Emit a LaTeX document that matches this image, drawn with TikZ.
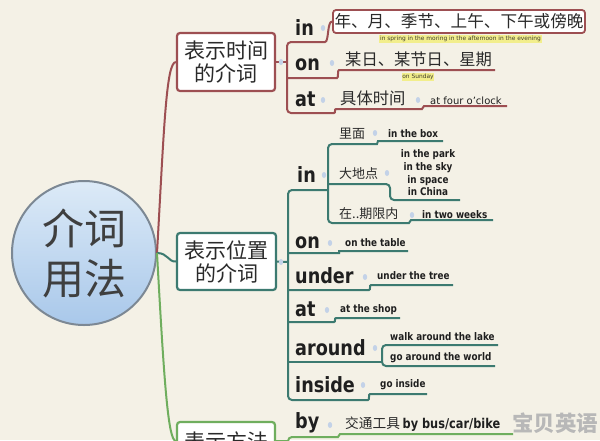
\documentclass[tikz,border=0pt]{standalone}
\usepackage{fontspec}
\setmainfont{DejaVu Sans}
\newfontfamily\cjk{Noto Sans CJK SC}
\newfontfamily\lab{DejaVu Sans}[FakeStretch=0.84]
\definecolor{bgc}{HTML}{F4F1E6}
\definecolor{redc}{HTML}{9D4F52}
\definecolor{tealc}{HTML}{3C7A70}
\definecolor{greenc}{HTML}{6FAE5E}
\definecolor{circb}{HTML}{7C8894}
\definecolor{circt}{HTML}{A9C8EA}
\definecolor{circl}{HTML}{DCEAF7}
\definecolor{dotc}{HTML}{C3D2E8}
\definecolor{yelc}{HTML}{F2EE8C}
\definecolor{txtc}{HTML}{2A2A2A}
\begin{document}
\begin{tikzpicture}[x=1pt,y=-1pt,
  tbox/.style={rectangle, rounded corners=3pt, fill=white, line width=2.2pt,
    minimum width=98pt, minimum height=58pt, inner sep=0pt, align=center,
    font=\cjk\fontsize{21}{23}\selectfont, text=txtc},
  lbl/.style={font=\lab\bfseries\fontsize{21}{21}\selectfont, text=black!88, inner sep=0pt, anchor=base west},
  sm/.style={font=\lab\bfseries\fontsize{10.5}{12.5}\selectfont, text=black!88, inner sep=0pt, anchor=base west},
  zh/.style={font=\cjk\fontsize{13}{13}\selectfont, text=txtc, inner sep=0pt, anchor=base west},
  zhb/.style={font=\cjk\fontsize{16.3}{16.3}\selectfont, text=txtc, inner sep=0pt, anchor=base west},
  yel/.style={fill=yelc, inner sep=0.8pt, font=\fontsize{5.9}{6.5}\selectfont, text=black!70!olive},
  redl/.style={draw=redc, line width=2pt, rounded corners=4pt},
  tl/.style={draw=tealc, line width=2pt, rounded corners=4pt},
  gl/.style={draw=greenc, line width=2pt, rounded corners=4pt},
  dot/.style={fill=dotc}]
\useasboundingbox (0,0) rectangle (600,440);
\clip (0,0) rectangle (600,440);
\fill[bgc] (0,0) rectangle (600,440);

% root
\node[circle, minimum size=144pt, draw=circb, line width=2pt, top color=circl, bottom color=circt,
  inner sep=0pt, align=center, font=\cjk\fontsize{42}{50}\selectfont, text=txtc!90] (root) at (84,253) {介词\\用法};

% branch boxes
\node[tbox, draw=redc] (time) at (226,62) {表示时间\\的介词};
\node[tbox, draw=tealc, minimum width=99pt, minimum height=57pt] (pos) at (226.5,261.5) {表示位置\\的介词};
\node[tbox, draw=greenc, minimum height=38pt] (meth) at (226,441) {表示方法};

% main connectors
\draw[redl] (root.east) .. controls (164,130) and (166,62) .. (time.west);
\draw[tl] (root.east) .. controls (168,253) and (168,262) .. (pos.west);
\draw[gl] (root.east) .. controls (164,380) and (168,441) .. (meth.west);

% ---------- time group ----------
\node[draw=redc, line width=1.8pt, rounded corners=3pt, fill=white, minimum width=252pt, minimum height=23pt,
  inner sep=0pt, font=\cjk\fontsize{16.6}{16.6}\selectfont, text=txtc] (tin) at (459,21.5) {年、月、季节、上午、下午或傍晚};
\draw[redl] (time.east) -- (287,62);
\draw[redl] (tin.west) .. controls (327,21.5) and (329,42) .. (321,42) -- (287,42) -- (287,113) -- (330,113)
  .. controls (336,113) and (334,109) .. (340,109) -- (418,109) .. controls (424,109) and (422,106) .. (428,106) -- (507,106);
\draw[redl] (287,78) -- (333,78) .. controls (339,78) and (337,70) .. (343,70) -- (495,70);
\fill[dot] (281,62) ellipse (2.2 and 3);

\node[lbl] (tinl) at (295,35) {in};
\node[lbl] (tonl) at (295,70) {on};
\node[lbl] (tatl) at (295,106) {at};
\fill[dot] (323,28) ellipse (2.2 and 3);
\fill[dot] (332,63) ellipse (2.2 and 3);
\fill[dot] (323,100) ellipse (2.2 and 3);
\node[yel] (tiny1) at (460.5,39) {in spring in the moring in the afternoon in the evening};
\node[zhb] (ton) at (345,65) {某日、某节日、星期};
\node[yel] (tiny2) at (418,77) {on Sunday};
\node[zhb] (tat) at (340,104) {具体时间};
\fill[dot] (418,100) ellipse (2.2 and 3);
\node[font=\fontsize{10}{10}\selectfont, text=black!88, inner sep=0pt, anchor=base west] (tat2) at (430,104) {at four o'clock};

% ---------- position group ----------
\draw[tl] (pos.east) -- (288,262);
\fill[dot] (281,262) ellipse (2.2 and 3);
\draw[tl] (328,190) -- (288,190) -- (288,400) -- (364,400) .. controls (370,400) and (368,394) .. (374,394) -- (427,394);
\draw[tl] (443,141) -- (382,141) .. controls (377,141) and (378,144) .. (373,144) -- (328,144) -- (328,223) -- (405,223)
  .. controls (411,223) and (409,220) .. (415,220) -- (493,220);
\draw[tl] (328,184) -- (390,184) -- (390,200) -- (460,200);
\draw[tl] (288,253) -- (335,253) .. controls (340,253) and (338,251) .. (343,251) -- (408,251);
\draw[tl] (288,290) -- (365,290) .. controls (371,290) and (369,285) .. (375,285) -- (453,285);
\draw[tl] (288,322) -- (330,322) .. controls (336,322) and (334,318) .. (340,318) -- (400,318);
\draw[tl] (288,362) -- (382,362);
\draw[tl] (498,345) -- (382,345) -- (382,366) -- (495,366);

\node[lbl] (pin) at (297,182) {in};
\node[lbl] (pon) at (295,248) {on};
\node[lbl] (punder) at (295,283) {under};
\node[lbl] (pat) at (295,316) {at};
\node[lbl] (paround) at (295,355) {around};
\node[lbl] (pinside) at (295,392) {inside};
\fill[dot] (324,175) ellipse (2.2 and 3);
\fill[dot] (330,243) ellipse (2.2 and 3);
\fill[dot] (365,277) ellipse (2.2 and 3);
\fill[dot] (327,310) ellipse (2.2 and 3);
\fill[dot] (375,348) ellipse (2.2 and 3);
\fill[dot] (363,385) ellipse (2.2 and 3);

\node[zh] (lm) at (339,138) {里面};
\fill[dot] (375,133) ellipse (2.2 and 3);
\node[sm] (lm2) at (388,137) {in the box};
\node[zh] (ddd) at (339,178) {大地点};
\fill[dot] (387,173) ellipse (2.2 and 3);
\node[sm, anchor=base] (p1) at (428,157) {in the park};
\node[sm, anchor=base] (p2) at (428,170) {in the sky};
\node[sm, anchor=base] (p3) at (428,183) {in space};
\node[sm, anchor=base] (p4) at (428,195.5) {in China};
\node[zh] (qx) at (339,218) {在..期限内};
\fill[dot] (412,215) ellipse (2.2 and 3);
\node[sm] (qx2) at (422,218) {in two weeks};
\node[sm] (on2) at (345,246) {on the table};
\node[sm] (un2) at (377,279) {under the tree};
\node[sm] (at2) at (340,312) {at the shop};
\node[sm] (ar1) at (390,340) {walk around the lake};
\node[sm] (ar2) at (390,360) {go around the world};
\node[sm] (in2) at (380,387) {go inside};

% ---------- method group ----------
\draw[gl] (meth.east) -- (288,441);
\draw[gl] (288,460) -- (288,437) -- (334,437) .. controls (340,437) and (338,434) .. (344,434) -- (513,434);
\node[lbl] (mby) at (295,428) {by};
\fill[dot] (330,425) ellipse (2.2 and 3);
\node[font=\cjk\fontsize{13.7}{13.7}\selectfont, text=txtc, inner sep=0pt, anchor=base west] (jt) at (345,428) {交通工具};
\node[font=\lab\bfseries\fontsize{13.5}{13.5}\selectfont, text=black!88, inner sep=0pt, anchor=base west] (jt2) at (jt.base east) {\,by bus/car/bike};

% watermark
\node[font=\cjk\bfseries\fontsize{21.5}{21.5}\selectfont, text=black!28, inner sep=0pt] (wm) at (555,423) {宝贝英语};
\end{tikzpicture}
\end{document}
